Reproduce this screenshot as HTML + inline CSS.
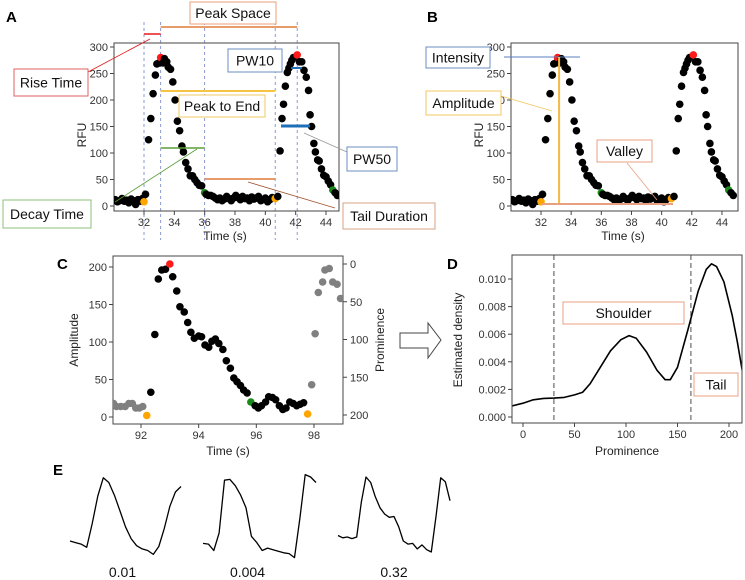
<!DOCTYPE html>
<html><head><meta charset="utf-8"><style>
html,body{margin:0;padding:0;background:#fff;}
svg{display:block;font-family:"Liberation Sans",sans-serif;}
</style></head><body>
<svg id="fig" width="745" height="580" viewBox="0 0 745 580">
<g id="layer"></g>
</svg>
<script>
// ---- Panel A/B data (time s, RFU, point kind) ----
const A_times = [30.1,30.25,30.4,30.55,30.7,30.85,31.0,31.15,31.3,31.45,31.6,31.75,31.9,
32.0,32.1,32.3,32.45,32.6,32.75,32.85,33.0,33.1,33.25,33.35,33.5,33.6,33.75,33.9,34.05,34.2,34.35,34.5,34.6,34.75,34.9,35.05,35.2,35.35,35.5,35.65,35.8,36.0,
36.1,36.25,36.4,36.55,36.7,36.85,37.0,37.15,37.3,37.45,37.6,37.75,37.9,38.05,38.2,38.35,38.5,38.65,38.8,38.95,39.1,39.25,39.4,39.55,39.7,39.85,40.0,40.15,40.3,40.45,
40.65,40.82,40.97,41.1,41.2,41.32,41.45,41.55,41.65,41.75,41.85,42.1,42.25,42.4,42.55,42.7,42.85,42.95,43.05,43.2,43.3,43.45,43.55,43.7,43.85,44.0,44.15,44.3,44.45,44.6,44.75];
const A_values = [12,8,10,14,9,11,6,13,10,3,12,9,14,
8,22,125,165,212,247,268,270,280,270,278,272,262,258,234,200,160,142,113,102,82,70,57,57,50,44,39,38,25,
22,20,20,18,15,12,15,10,13,18,14,10,15,20,16,12,18,14,15,10,17,13,15,18,10,12,15,8,12,16,
14,18,104,165,192,226,252,260,268,275,280,285,272,272,256,243,218,172,150,118,102,87,85,70,58,55,47,40,30,25,20];
const A_kind = A_values.map(()=> 'k');
A_kind[13]='o'; A_kind[21]='r'; A_kind[41]='g'; A_kind[72]='o'; A_kind[83]='r'; A_kind[100]='g';
const A_yticks = [0,50,100,150,200,250,300];
const A_xticks = [32,34,36,38,40,42,44];
const A_markers = [32,33.1,36,40.65,42.1];

// ---- Panel C data ----
const C_times = [91.05,91.15,91.3,91.45,91.58,91.7,91.82,91.94,92.06,92.2,92.34,92.48,92.6,92.72,92.85,93.0,93.1,93.24,93.35,93.5,93.62,93.73,93.85,94.0,94.1,94.22,94.35,94.46,94.58,94.7,94.84,94.96,95.1,95.22,95.33,95.45,95.56,95.68,95.81,95.96,96.07,96.18,96.32,96.43,96.56,96.67,96.8,96.92,97.03,97.16,97.28,97.4,97.52,97.64,97.78,97.92,98.04,98.15,98.3,98.38,98.53,98.65,98.8,98.92];
const C_values = [18,14,14,14,18,18,12,12,14,2,33,110,184,196,197,204,187,168,147,140,126,113,105,108,107,96,93,101,104,98,90,75,65,52,47,42,36,32,20,15,12,15,20,27,26,23,15,10,12,20,18,15,17,19,4,43,111,166,180,196,198,180,177,158];
const C_kind = ['g','g','g','g','g','g','g','g','g','o','k','k','k','k','k','r','k','k','k','k','k','k','k','k','k','k','k','k','k','k','k','k','k','k','k','k','k','k','n','k','k','k','k','k','k','k','k','k','k','k','k','k','k','k','o','g','g','g','g','g','g','g','g','g'];
const C_yticks = [0,50,100,150,200];
const C_ptick = [0,50,100,150,200];
const C_xticks = [92,94,96,98];

// ---- Panel D data (KDE) ----
const D_prom = [-11,0,10,20,30,40,50,58,65,75,85,95,103,110,120,130,138,143,150,160,170,178,183,188,195,203,208,213];
const D_dens = [0.0008,0.001,0.00125,0.00135,0.00137,0.00142,0.0016,0.0018,0.0024,0.0036,0.0048,0.0056,0.0059,0.0057,0.0047,0.0034,0.0027,0.0027,0.0036,0.0063,0.0091,0.0107,0.0111,0.0109,0.0098,0.0074,0.0055,0.0033];
const D_yticks = [0,0.002,0.004,0.006,0.008,0.010];
const D_xticks = [0,50,100,150,200];
const D_cuts = [30,163];

// ---- Panel E traces (normalized amplitude, 0 = baseline, 1 = peak) ----
const E1 = [0.19,0.17,0.15,0.11,0.41,0.76,0.99,0.93,0.77,0.57,0.37,0.22,0.13,0.09,0.07,0.02,0.12,0.35,0.63,0.81,0.88];
const E2 = [0.16,0.15,0.07,0.29,0.96,0.97,0.89,0.77,0.61,0.25,0.17,0.07,0.10,0.08,0.06,0.04,0.03,-0.02,0.48,1.03,1.0,0.93];
const E3 = [0.26,0.23,0.24,0.22,0.24,0.68,1.0,0.93,0.75,0.61,0.53,0.49,0.50,0.37,0.19,0.15,0.16,0.09,0.14,0.08,0.05,0.50,0.99,0.94,0.70];
const E_labels = ['0.01','0.004','0.32'];

const NS='http://www.w3.org/2000/svg';
const layer=document.getElementById('layer');
function mk(tag,attrs,parent){const e=document.createElementNS(NS,tag);for(const k in attrs)e.setAttribute(k,attrs[k]);(parent||layer).appendChild(e);return e;}
function txt(s,attrs,parent){const e=mk('text',attrs,parent);e.textContent=s;return e;}
const COL={k:'#000',r:'#ff1a1a',o:'#ffa500',g:'#808080',n:'#008000'};
const GREEN='#1a8a1a';

// scales
const xA=t=>144+(t-32)*15.167, yA=v=>206-v*0.53;
const xB=t=>541+(t-32)*15.08;
const xC=t=>141+(t-92)*28.83, yC=a=>417-a*0.75, yP=p=>264+p*0.755;
const xD=p=>523+p*1.03, yD=d=>417-d*13800;

function frame(x0,y0,x1,y1,name){const r=mk('rect',{x:x0,y:y0,width:x1-x0,height:y1-y0,fill:'none',stroke:'#444','stroke-width':1});

}

function yticks(vals,f,x,fmt,name,right){
  vals.forEach(v=>{const y=f(v);
    mk('line',{x1:x,x2:right?x+4:x-4,y1:y,y2:y,stroke:'#444'});
    const t=txt(fmt(v),{x:right?x+7:x-6,y:y+4,'font-size':11,fill:'#333','text-anchor':right?'start':'end'});
    
    
  });
}
function xticks(vals,f,y,fmt,name){
  vals.forEach(v=>{const x=f(v);
    mk('line',{x1:x,x2:x,y1:y,y2:y+4,stroke:'#444'});
    const t=txt(fmt(v),{x:x,y:y+15,'font-size':11,fill:'#333','text-anchor':'middle'});
    
    
  });
}
function dots(ts,vs,kinds,fx,fy,name,clip){
  const g=mk('g',{'clip-path':clip});
  
  
  ts.forEach((t,i)=>{
    const k=kinds[i]; let c=COL[k]; if(name!=='amplitude-points'&&k==='g') c=GREEN; if(k==='n') c=GREEN;
    const d=mk('circle',{cx:fx(t),cy:fy(vs[i]),r:3.8,fill:c},g);
    
    
  });
}
function lbl(s,x,y,size,attrs,name){const t=txt(s,Object.assign({x:x,y:y,'font-size':size,fill:'#222'},attrs||{}));
  
  return t;}
function box(x,y,w,h,color,s,name){
  const g=mk('g',{});
  
  
  mk('rect',{x:x,y:y,width:w,height:h,fill:'#fff',stroke:color,'stroke-width':1},g);
  txt(s,{x:x+w/2,y:y+h/2+5,'font-size':14,'text-anchor':'middle',fill:'#111'},g);
}
function ln(x1,y1,x2,y2,c,w,name,dash){const l=mk('line',{x1,y1,x2,y2,stroke:c,'stroke-width':w||1});if(dash)l.setAttribute('stroke-dasharray',dash);
  
  return l;}

const defs=mk('defs',{});
[['clipA',114,43,225,168],['clipB',511,43,227,168],['clipC',113,256,230,168],['clipD',512,255,230,168]].forEach(c=>{
  const cp=mk('clipPath',{id:c[0]},defs);mk('rect',{x:c[1],y:c[2],width:c[3],height:c[4]},cp);});

// ===== Panel A =====
lbl('A',6,22,15,{'font-weight':'bold',fill:'#000'},'panel-a-label');
A_markers.forEach(t=>ln(xA(t),22,xA(t),240,'#6f7fc8',0.8,'marker-line','3,3'));
frame(114,43,339,211,'panel-a-frame');
yticks(A_yticks,yA,114,v=>v,'y-tick-label');
xticks(A_xticks,xA,211,v=>v,'x-tick-label');
lbl('RFU',0,0,12,{transform:'translate(86,135) rotate(-90)','text-anchor':'middle'},'y-axis-title');
lbl('Time (s)',225,240,12,{'text-anchor':'middle'},'x-axis-title');
dots(A_times,A_values,A_kind,xA,yA,'rfu-points','url(#clipA)');
ln(xA(33.1),27,xA(42.1),27,'#e07b39',1.5,'peak-space-line');
ln(xA(32),34,xA(33.1),34,'#e8191a',1.5,'rise-time-line');
ln(xA(33.1),91,xA(40.65),91,'#f5c542',2,'peak-to-end-line');
ln(xA(33.1),148,xA(36),148,'#5a9e3a',1.5,'decay-time-line');
ln(xA(36),179,xA(40.65),179,'#e07b39',1.5,'tail-duration-line');
ln(291,68,302,68,'#1f6fb8',2,'pw10-line');
ln(281,126,310,126,'#1f6fb8',3,'pw50-line');
ln(88,72,150,39,'#e8191a',0.8,'rise-time-connector');
ln(115,202,197,149,'#5a9e3a',0.8,'decay-time-connector');
ln(248,182,335,208,'#a0522d',0.8,'tail-duration-connector');
ln(304,133,347,152,'#999',0.8,'pw50-connector');
box(190,2,86,22,'#e8a07a','Peak Space','peak-space-box');
box(14,69,74,27,'#e06060','Rise Time','rise-time-box');
box(228,49,54,23,'#6b8fc0','PW10','pw10-box');
box(179,95,86,22,'#f0c860','Peak to End','peak-to-end-box');
box(3,200,88,28,'#8cbf7a','Decay Time','decay-time-box');
box(347,147,50,24,'#6b8fc0','PW50','pw50-box');
box(343,203,92,26,'#d8a080','Tail Duration','tail-duration-box');

// ===== Panel B =====
lbl('B',427,22,15,{'font-weight':'bold',fill:'#000'},'panel-b-label');
frame(511,43,738,211,'panel-b-frame');
yticks(A_yticks,yA,511,v=>v,'y-tick-label');
xticks(A_xticks,xB,211,v=>v,'x-tick-label');
lbl('RFU',0,0,12,{transform:'translate(483,135) rotate(-90)','text-anchor':'middle'},'y-axis-title');
lbl('Time (s)',623,240,12,{'text-anchor':'middle'},'x-axis-title');
dots(A_times,A_values,A_kind,xB,yA,'rfu-points-b','url(#clipB)');
ln(504,57,580,57,'#5b7fc0',1,'intensity-line');
ln(xB(33.2),57,xB(33.2),204,'#f5b942',2,'amplitude-line');
ln(xB(32),204,673,204,'#e8a080',2,'valley-line');
ln(501,96,552,111,'#f0c860',0.8,'amplitude-connector');
ln(627,163,657,200,'#e8a080',0.8,'valley-connector');
box(426,47,64,21,'#6b8fc0','Intensity','intensity-box');
box(426,91,75,24,'#f0c860','Amplitude','amplitude-box');
box(597,140,55,22,'#e8a080','Valley','valley-box');

// ===== Panel C =====
lbl('C',57,269,15,{'font-weight':'bold',fill:'#000'},'panel-c-label');
frame(113,256,343,424,'panel-c-frame');
yticks(C_yticks,yC,113,v=>v,'y-tick-label');
yticks(C_ptick,yP,343,v=>v,'right-y-tick-label',true);
xticks(C_xticks,xC,424,v=>v,'x-tick-label');
lbl('Amplitude',0,0,12,{transform:'translate(78,340) rotate(-90)','text-anchor':'middle'},'y-axis-title');
lbl('Prominence',0,0,12,{transform:'translate(384,340) rotate(-90)','text-anchor':'middle'},'right-axis-title');
lbl('Time (s)',228,455,12,{'text-anchor':'middle'},'x-axis-title');
dots(C_times,C_values,C_kind,xC,yC,'amplitude-points','url(#clipC)');

const arr=mk('polygon',{points:'400,333 428,333 428,323 441,340 428,358 428,348 400,348',fill:'#fff',stroke:'#444','stroke-width':1});



// ===== Panel D =====
lbl('D',447,269,15,{'font-weight':'bold',fill:'#000'},'panel-d-label');
D_cuts.forEach(p=>ln(xD(p),255,xD(p),423,'#777',1.3,'cutoff-line','5,3'));
yticks(D_yticks,yD,512,v=>v.toFixed(3),'y-tick-label');
xticks(D_xticks,xD,423,v=>v,'x-tick-label');
lbl('Estimated density',0,0,12,{transform:'translate(462,340) rotate(-90)','text-anchor':'middle'},'y-axis-title');
lbl('Prominence',627,455,12,{'text-anchor':'middle'},'x-axis-title');
const dpath=D_prom.map((p,i)=>(i?'L':'M')+xD(p).toFixed(1)+','+yD(D_dens[i]).toFixed(1)).join(' ');
const kde=mk('path',{d:dpath,fill:'none',stroke:'#000','stroke-width':1.6,'clip-path':'url(#clipD)','stroke-linejoin':'round'});


frame(512,255,742,423,'panel-d-frame');
box(563,302,121,22,'#e8a080','Shoulder','shoulder-box');
box(694,373,44,23,'#e8a080','Tail','tail-box');

// ===== Panel E =====
lbl('E',53,475,15,{'font-weight':'bold',fill:'#000'},'panel-e-label');
const ERows=[[E1,70,181,'trace-1'],[E2,203,316,'trace-2'],[E3,338,450,'trace-3']];
const yE=v=>556-v*79;
ERows.forEach((r,j)=>{
  const arrv=r[0],x0=r[1],x1=r[2];
  const xE=i=>x0+(x1-x0)*i/(arrv.length-1);
  const d=arrv.map((v,i)=>(i?'L':'M')+xE(i).toFixed(1)+','+yE(v).toFixed(1)).join(' ');
  const p=mk('path',{d:d,fill:'none',stroke:'#000','stroke-width':1.3,'stroke-linejoin':'round'});
  
  
  lbl(E_labels[j],(x0+x1)/2+(j===0?-3:j===1?-12:0),580-3,14,{'text-anchor':'middle',fill:'#111'},'trace-score-label');
});
</script>
</body></html>
